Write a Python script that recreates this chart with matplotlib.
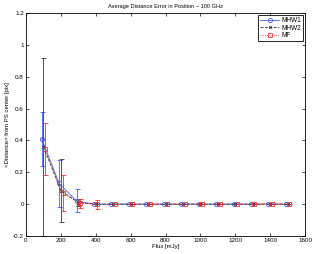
import numpy as np
import matplotlib
matplotlib.use('Agg')
import matplotlib.pyplot as plt

flux = np.arange(100, 1600, 100)

# mean distance and error bars for each method
mhw1 = [0.41, 0.13, 0.02, 0, 0, 0, 0, 0, 0, 0, 0, 0, 0, 0, 0]
mhw1_err = [0.17, 0.145, 0.072, 0, 0, 0, 0, 0, 0, 0, 0, 0, 0, 0, 0]
mhw2 = [0.36, 0.085, 0.01, 0, 0, 0, 0, 0, 0, 0, 0, 0, 0, 0, 0]
mhw2_err = [0.56, 0.2, 0.02, 0, 0, 0, 0, 0, 0, 0, 0, 0, 0, 0, 0]
mf = [0.345, 0.07, 0.005, 0, 0, 0, 0, 0, 0, 0, 0, 0, 0, 0, 0]
mf_err = [0.165, 0.11, 0.03, 0.028, 0, 0, 0, 0, 0, 0, 0, 0, 0, 0, 0]

plt.rcParams['font.family'] = ['Liberation Sans', 'DejaVu Sans']
plt.rcParams['font.size'] = 4.5

fig = plt.figure(figsize=(3.16, 2.54), dpi=100)
ax = fig.add_axes([26/316, 18/254, 279/316, 223/254])

common = dict(lw=0.6, capsize=1.8, elinewidth=0.6, mew=0.6)
e1 = ax.errorbar(flux - 10, mhw1, yerr=mhw1_err, color='#4a5cf0', ls='-',
                 marker='o', ms=3, mfc='none', **common)
e2 = ax.errorbar(flux, mhw2, yerr=mhw2_err, color='#333333', ls='--',
                 marker='x', ms=2, **common)
e3 = ax.errorbar(flux + 10, mf, yerr=mf_err, color='#f03030', ls=':',
                 marker='s', ms=2.6, mfc='none', **common)

ax.set_xlim(0, 1600)
ax.set_ylim(-0.2, 1.2)
ax.set_xticks(np.arange(0, 1601, 200))
ax.set_yticks(np.round(np.arange(-0.2, 1.21, 0.2), 1))
ax.set_yticklabels(['-0.2', '0', '0.2', '0.4', '0.6', '0.8', '1', '1.2'])
ax.tick_params(direction='in', top=True, right=True, length=2, width=0.5, pad=1.5)
for s in ax.spines.values():
    s.set_linewidth(0.6)

ax.set_title('Average Distance Error in Position \u2013 100 GHz', pad=3.5, fontsize=4.1)
ax.set_xlabel('Flux [mJy]', labelpad=1, fontsize=4.3)
ax.set_ylabel('<Distance> from PS center [pix]', labelpad=2.5, fontsize=4.3)

leg = ax.legend([e1.lines[0], e2.lines[0], e3.lines[0]], ['MHW1', 'MHW2', 'MF'],
                loc='upper right', fancybox=False, framealpha=1, fontsize=4.7,
                edgecolor='black', handlelength=3.0, borderpad=0.25,
                labelspacing=0.1, handletextpad=0.3, borderaxespad=0.35)
leg.get_frame().set_linewidth(0.6)

fig.savefig('out.png', dpi=100)
